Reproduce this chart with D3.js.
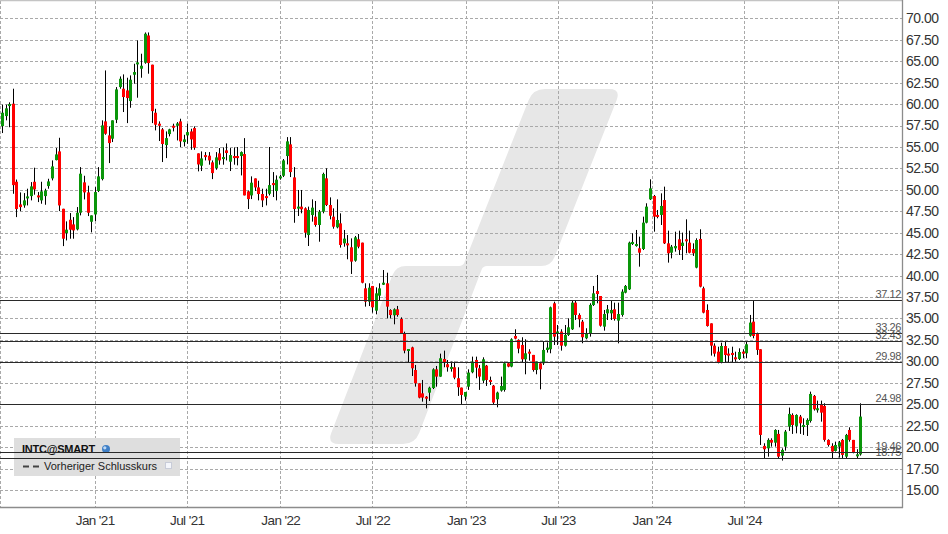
<!DOCTYPE html>
<html><head><meta charset="utf-8">
<script src="https://cdn.jsdelivr.net/npm/d3@7"></script>
<style>html,body{margin:0;padding:0;background:#fff;} svg{display:block;font-family:"Liberation Sans",Arial,sans-serif;}</style>
</head><body>
<svg id="chart" width="948" height="534"></svg>
<script>
// ---- data (weekly candles, INTC) ----
const firstWeek = "2020-07-03";
const open = [57.43,58.6,59.8,60.04,50.94,48.3,48.18,49.04,49.27,50.94,
49.35,48.77,49.27,50.44,51.33,53.47,54.48,47.79,44.96,46.51,
45.97,45.39,47.33,50.87,49.7,46.28,47.13,49.86,51.25,57.98,
56.35,55.96,58.17,61.98,61.79,61.59,60.35,63.42,64.66,64.12,
64.82,68.0,64.59,58.99,57.71,57.05,55.22,56.5,57.47,57.47,
57.98,55.57,56.35,56.81,57.2,54.25,52.81,54.05,53.98,53.2,
52.54,54.25,53.59,54.6,53.28,53.94,53.94,53.94,54.17,49.82,
49.35,51.33,50.28,49.51,49.27,49.54,50.79,49.86,51.41,51.64,
53.94,55.3,51.45,47.84,48.04,47.84,44.73,47.06,46.87,45.9,
47.45,51.34,48.23,46.87,45.63,46.09,43.76,43.76,43.3,41.74,
44.23,43.84,38.51,36.96,38.79,35.91,37.66,38.98,39.1,35.99,
35.37,36.07,34.94,33.27,31.32,31.63,28.99,27.44,26.27,25.88,
26.35,26.89,29.07,28.22,30.28,29.66,29.19,29.31,28.03,26.94,
25.89,27.05,28.73,30.16,29.19,27.75,29.5,27.83,27.17,25.58,
26.59,26.67,29.77,29.39,32.96,32.5,31.91,30.24,31.13,30.75,
28.99,29.77,29.77,31.33,31.41,36.77,33.27,33.47,31.83,33.08,
33.74,36.85,35.41,34.63,32.69,33.27,36.57,38.2,37.62,34.05,
35.6,35.6,36.07,34.75,35.41,38.01,38.4,43.68,43.45,43.18,
43.1,46.17,48.89,49.28,47.07,47.07,48.81,43.76,42.67,43.18,
44.23,43.45,44.23,43.84,43.1,40.93,44.27,38.52,35.99,34.43,
31.83,31.13,29.89,31.79,30.9,30.98,30.47,30.28,31.13,30.94,
33.0,34.63,33.27,31.41,20.14,19.86,20.84,20.52,21.54,19.01,
20.06,22.39,23.75,22.47,23.56,22.39,22.58,23.05,25.97,24.33,
24.92,24.8,20.84,20.14,19.55,20.06,20.84,18.89,22.0,20.84,
19.01,19.16];
const high = [59.92,59.92,60.2,61.79,51.2,49.7,49.62,50.13,50.9,52.58,
49.74,50.94,50.13,51.29,53.43,54.87,56.07,47.79,46.32,47.29,
46.82,47.99,52.65,51.64,50.48,47.02,50.32,52.65,58.1,63.92,
57.4,58.1,61.98,63.22,63.46,63.07,63.34,64.7,67.42,65.87,
68.35,68.35,64.59,59.45,57.98,57.2,56.81,57.12,57.71,57.9,
58.29,56.42,57.71,57.12,57.4,54.25,54.48,54.4,54.4,53.43,
54.4,54.87,54.95,55.41,54.87,54.95,54.99,54.48,56.03,49.93,
51.57,51.33,51.06,50.13,50.13,54.99,52.07,51.68,51.76,53.59,
56.15,56.15,52.65,49.98,49.98,47.96,48.04,48.89,48.7,47.65,
52.0,52.51,49.12,47.84,48.89,47.26,45.32,44.73,44.34,44.62,
44.85,43.84,39.1,39.1,38.79,38.63,39.1,40.65,40.34,36.07,
36.18,36.46,35.13,33.46,31.44,31.71,29.58,27.44,27.83,25.96,
27.05,29.19,29.46,30.9,31.25,30.16,29.97,29.97,29.31,26.94,
26.43,29.07,30.55,30.55,29.58,30.47,29.58,28.22,27.25,26.47,
28.22,29.97,29.85,32.69,33.74,32.57,32.81,32.57,31.41,30.75,
29.97,29.85,32.3,32.22,36.38,36.96,34.24,33.74,34.24,35.02,
37.08,37.08,35.6,34.83,33.86,36.77,38.79,40.07,37.62,35.99,
36.57,37.15,36.84,36.84,38.4,38.9,43.96,44.93,45.32,44.54,
46.87,48.43,51.22,49.4,47.65,49.59,50.37,45.24,43.57,45.12,
45.24,45.01,46.56,45.24,43.76,44.35,45.4,38.71,36.65,34.43,
32.1,31.71,32.18,32.3,31.52,31.71,31.13,31.52,31.41,32.3,
35.41,37.12,33.35,31.41,20.45,21.03,21.03,22.08,22.0,19.86,
22.0,24.61,23.94,23.83,23.75,23.36,23.36,26.47,26.08,25.42,
25.42,25.11,20.91,20.45,20.64,20.72,20.95,21.54,22.31,20.84,
19.75,25.11];
const low = [56.62,58.1,57.3,49.54,46.82,47.52,47.91,48.18,48.77,49.43,
48.57,48.38,48.26,50.13,51.1,53.43,47.52,43.44,44.1,44.3,
44.3,45.27,47.02,48.88,46.94,45.04,46.36,49.74,51.1,56.42,
53.12,55.57,57.78,61.79,59.07,57.78,59.57,62.37,60.74,63.07,
64.7,63.54,57.78,56.93,55.69,53.24,53.7,56.23,56.81,55.76,
54.99,55.06,55.37,54.67,54.67,52.15,52.19,53.43,52.93,51.25,
52.34,52.93,52.93,53.43,52.19,52.93,52.85,51.68,49.35,47.76,
48.92,49.86,48.77,47.99,48.18,49.35,49.16,48.77,51.18,51.49,
52.96,51.49,46.16,46.95,47.26,44.42,43.45,46.29,45.7,43.95,
47.26,48.11,46.56,45.47,45.51,43.26,43.37,41.9,40.19,41.62,
43.18,39.1,36.38,36.45,35.68,35.48,37.15,38.9,35.02,35.02,
34.32,35.21,33.19,30.94,29.85,28.29,27.05,25.69,25.3,24.52,
25.38,26.77,27.05,28.2,29.31,28.8,28.8,27.91,25.97,25.03,
25.42,26.67,28.61,28.03,26.67,27.44,27.13,27.25,24.92,24.64,
26.47,26.47,29.31,29.31,32.57,30.94,29.85,28.49,30.08,28.8,
28.49,26.74,29.58,31.02,30.94,31.91,31.91,31.25,31.72,32.96,
33.66,34.83,33.97,32.11,32.57,32.88,36.46,36.77,34.05,33.58,
34.82,34.82,34.75,32.1,35.21,37.93,38.32,43.57,43.37,41.04,
42.98,46.09,48.81,45.12,46.68,45.9,43.68,41.51,42.01,42.79,
42.4,41.82,42.6,42.6,42.29,40.85,38.63,35.6,34.05,30.67,
30.55,29.77,29.77,29.85,29.85,29.85,29.96,30.16,30.36,30.36,
32.88,32.69,30.75,20.25,18.7,18.89,20.06,20.06,18.7,18.43,
19.59,21.89,21.54,21.61,21.54,21.42,21.3,22.86,24.26,24.02,
22.97,20.64,20.06,18.7,19.48,18.78,18.7,18.7,20.64,19.28,
18.7,19.01];
const close = [58.99,59.5,60.0,50.55,47.76,47.99,48.77,49.23,50.4,50.05,
49.16,49.82,49.93,50.98,52.73,54.13,48.18,44.3,45.35,45.35,
45.27,47.33,51.88,49.7,47.33,47.02,49.74,51.57,57.51,56.54,
55.45,58.1,61.71,62.95,60.82,60.7,62.84,63.73,64.86,64.47,
68.2,64.78,59.18,57.59,57.47,55.34,56.03,57.05,57.32,57.74,
55.65,55.88,56.73,55.88,54.91,52.96,53.66,53.9,53.43,51.95,
53.78,53.43,53.82,54.29,54.05,53.7,53.7,54.4,49.35,48.92,
50.83,50.28,49.51,48.77,49.08,50.55,50.55,51.18,51.57,53.43,
55.65,52.07,47.76,48.04,47.73,45.0,47.65,47.92,45.9,47.45,
51.85,48.23,46.98,45.7,46.48,43.57,44.31,43.57,41.63,44.46,
43.37,39.17,36.96,38.59,36.3,37.93,38.51,39.17,36.38,35.4,
36.07,35.4,33.27,31.25,31.44,29.19,27.44,25.77,25.77,25.69,
26.93,29.07,28.22,30.36,29.85,29.31,29.35,28.1,26.98,26.08,
26.43,28.69,29.97,29.27,28.22,30.24,27.83,27.68,25.19,26.36,
27.13,29.77,29.39,32.57,32.65,31.48,30.24,30.94,30.94,28.99,
29.97,29.07,31.33,31.6,36.3,32.88,33.47,31.83,33.08,33.97,
36.85,35.41,34.9,32.81,33.27,36.58,37.93,37.85,34.16,35.52,
36.07,35.99,34.94,35.52,38.13,38.79,43.84,43.92,43.68,42.67,
46.17,48.04,50.17,46.87,46.87,48.12,43.76,42.6,43.37,43.45,
42.98,43.84,44.03,42.67,42.6,44.15,38.71,35.68,34.12,31.83,
30.9,29.89,31.79,30.74,30.67,30.74,30.35,31.09,30.94,31.99,
34.52,32.96,31.33,21.42,19.75,20.84,20.52,22.0,18.89,19.67,
21.81,23.87,22.58,23.75,22.78,22.58,23.17,26.2,24.41,24.53,
24.02,20.84,20.25,19.48,20.25,20.56,19.09,21.42,20.84,19.36,
19.16,23.56];
const levels = [37.12, 33.26, 32.43, 29.98, 24.98, 19.46, 18.75];
const yTicks = [15,17.5,20,22.5,25,27.5,30,32.5,35,37.5,40,42.5,45,47.5,50,52.5,55,57.5,60,62.5,65,67.5,70];
const xGridDates = ["2021-01-01","2021-07-01","2022-01-01","2022-07-01","2023-01-01","2023-07-01","2024-01-01","2024-07-01","2025-01-01"];
const xLabelDates = ["2021-01-01","2021-07-01","2022-01-01","2022-07-01","2023-01-01","2023-07-01","2024-01-01","2024-07-01"];
const legendTitle = "INTC@SMART";
const legendItem = "Vorheriger Schlusskurs";

// ---- layout ----
const W = 948, H = 534;
const plotR = 902, plotT = 1, plotB = 507;
const parse = d3.timeParse("%Y-%m-%d");
const start = parse(firstWeek);
const data = open.map((o, i) => ({date: d3.timeDay.offset(start, 7 * i), o, h: high[i], l: low[i], c: close[i]}));

const x = d3.scaleTime().domain([parse("2021-01-01"), parse("2025-01-01")]).range([94.7, 837.7]);
const y = d3.scaleLinear().domain([15, 70]).range([490, 18.3]);

const svg = d3.select("#chart");
svg.append("rect").attr("width", W).attr("height", H).attr("fill", "#fff");

svg.append("defs").append("clipPath").attr("id", "plotclip")
  .append("rect").attr("x", 0).attr("y", plotT).attr("width", plotR).attr("height", plotB - plotT);

const plot = svg.append("g").attr("clip-path", "url(#plotclip)");

// watermark
function roundedPoly(pts, radii) {
  let d = "";
  const n = pts.length;
  for (let i = 0; i < n; i++) {
    const p = pts[i], prev = pts[(i - 1 + n) % n], next = pts[(i + 1) % n];
    const r = radii[i];
    const v1 = [prev[0] - p[0], prev[1] - p[1]], v2 = [next[0] - p[0], next[1] - p[1]];
    const l1 = Math.hypot(...v1), l2 = Math.hypot(...v2);
    const a = [p[0] + v1[0] / l1 * r, p[1] + v1[1] / l1 * r];
    const b = [p[0] + v2[0] / l2 * r, p[1] + v2[1] / l2 * r];
    d += (i === 0 ? "M" : "L") + a[0] + "," + a[1] + "Q" + p[0] + "," + p[1] + " " + b[0] + "," + b[1];
  }
  return d + "Z";
}
const wm = [[533,89],[621,89],[551,266],[483,266],[415,444],[327,444],[396,266],[463,266]];
plot.append("path").attr("d", roundedPoly(wm, [12,12,10,4,12,12,10,4])).attr("fill", "#e7e7e7");

// grid
const gridColor = "#a9a9a9";
plot.append("g").selectAll("line").data(yTicks).join("line")
  .attr("x1", 0).attr("x2", plotR)
  .attr("y1", d => Math.round(y(d)) + 0.5).attr("y2", d => Math.round(y(d)) + 0.5)
  .attr("stroke", gridColor).attr("stroke-dasharray", "3,2");
plot.append("g").selectAll("line").data(xGridDates.map(parse)).join("line")
  .attr("y1", plotT).attr("y2", plotB)
  .attr("x1", d => Math.round(x(d)) + 0.5).attr("x2", d => Math.round(x(d)) + 0.5)
  .attr("stroke", gridColor).attr("stroke-dasharray", "3,2");
plot.append("line").attr("x1", 0.5).attr("x2", 0.5).attr("y1", plotT).attr("y2", plotB)
  .attr("stroke", gridColor).attr("stroke-dasharray", "3,2");

// legend box
const lg = svg.append("g");
lg.append("rect").attr("x", 14).attr("y", 438).attr("width", 166).attr("height", 38).attr("fill", "#dedede");
lg.append("text").attr("x", 22).attr("y", 453).attr("font-size", 11).attr("font-weight", "bold")
  .attr("letter-spacing", -0.25).attr("fill", "#111").text(legendTitle);
const globe = lg.append("g").attr("transform", "translate(106,449)");
globe.append("circle").attr("r", 4).attr("fill", "#3f7fc6");
globe.append("circle").attr("r", 1.6).attr("cx", -1.2).attr("cy", -1.2).attr("fill", "#bcd8f5");
lg.append("line").attr("x1", 23).attr("x2", 40).attr("y1", 466.5).attr("y2", 466.5)
  .attr("stroke", "#444").attr("stroke-width", 2).attr("stroke-dasharray", "6,4");
lg.append("text").attr("x", 44).attr("y", 470).attr("font-size", 11).attr("fill", "#222").text(legendItem);
lg.append("rect").attr("x", 165.5).attr("y", 462.5).attr("width", 6).attr("height", 6)
  .attr("fill", "#f4f6fb").attr("stroke", "#c8ccd8");

// level lines
svg.append("g").selectAll("line").data(levels).join("line")
  .attr("x1", 0).attr("x2", plotR)
  .attr("y1", d => Math.round(y(d)) + 0.5).attr("y2", d => Math.round(y(d)) + 0.5)
  .attr("stroke", "#2a2a2a").attr("stroke-width", 1.2);
svg.append("g").selectAll("text").data(levels).join("text")
  .attr("x", 901).attr("y", d => Math.round(y(d)) - 2.5)
  .attr("text-anchor", "end").attr("font-size", 11).attr("letter-spacing", -0.4)
  .attr("fill", "#555").text(d => d.toFixed(2));

// candles
const cg = plot.append("g");
const cx = d => Math.round(x(d.date));
cg.selectAll("line.wick").data(data).join("line").attr("class", "wick")
  .attr("x1", d => cx(d) + 0.5).attr("x2", d => cx(d) + 0.5)
  .attr("y1", d => y(d.h)).attr("y2", d => y(d.l))
  .attr("stroke", "#000").attr("stroke-width", 1);
cg.selectAll("rect.body").data(data).join("rect").attr("class", "body")
  .attr("x", d => cx(d) - 1).attr("width", 3)
  .attr("y", d => Math.min(y(d.o), y(d.c)))
  .attr("height", d => Math.max(2, Math.abs(y(d.o) - y(d.c))))
  .attr("fill", d => d.c >= d.o ? "#0a960a" : "#ff0000");

// frame
svg.append("line").attr("x1", 0).attr("x2", plotR + 0.5).attr("y1", 0.5).attr("y2", 0.5).attr("stroke", "#c4c4c4").attr("stroke-width", 1.5);
svg.append("line").attr("x1", plotR + 0.5).attr("x2", plotR + 0.5).attr("y1", 0).attr("y2", plotB + 1).attr("stroke", "#8c8c8c").attr("stroke-width", 1.3);
svg.append("line").attr("x1", 0).attr("x2", plotR + 1).attr("y1", plotB + 0.5).attr("y2", plotB + 0.5).attr("stroke", "#8c8c8c").attr("stroke-width", 1.3);

// y axis labels
const yAxis = d3.axisRight(y).tickValues(yTicks).tickSize(0).tickPadding(4).tickFormat(d3.format(".2f"));
const ya = svg.append("g").attr("transform", `translate(${plotR},0)`).call(yAxis);
ya.select(".domain").remove();
ya.selectAll("text").attr("font-size", 14).attr("font-family", "Liberation Sans, Arial, sans-serif")
  .attr("letter-spacing", -0.5).attr("fill", "#333");

// x axis labels
const xAxis = d3.axisBottom(x).tickValues(xLabelDates.map(parse)).tickSize(0).tickPadding(8).tickFormat(d3.timeFormat("%b '%y"));
const xa = svg.append("g").attr("transform", `translate(0,${plotB})`).call(xAxis);
xa.select(".domain").remove();
xa.selectAll("text").attr("font-size", 13.5).attr("font-family", "Liberation Sans, Arial, sans-serif")
  .attr("letter-spacing", -0.6).attr("fill", "#333");
</script>
</body></html>
